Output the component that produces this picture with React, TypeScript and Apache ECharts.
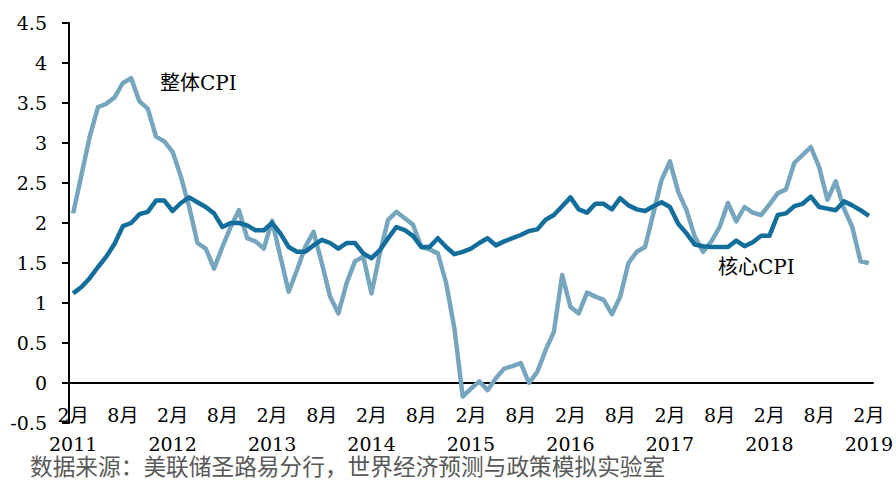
import React, { useEffect, useRef } from "react";
import * as echarts from "echarts";

// Monthly categories: Feb 2011 – Feb 2019
const startYear = 2011;
const startMonth = 2;
const endYear = 2019;
const endMonth = 2;
const months: string[] = [];
for (let y = startYear; y <= endYear; y++) {
  for (let m = 1; m <= 12; m++) {
    if (y === startYear && m < startMonth) continue;
    if (y === endYear && m > endMonth) break;
    months.push(`${y}-${m < 10 ? "0" + m : m}`);
  }
}

// 整体CPI (headline CPI, YoY %)
const headlineCPI: number[] = [
  2.12, 2.6, 3.08, 3.45, 3.49, 3.57, 3.75, 3.81, 3.52, 3.43, 3.08, 3.02,
  2.89, 2.58, 2.2, 1.75, 1.68, 1.43, 1.7, 1.95, 2.16, 1.81, 1.77, 1.68,
  2.03, 1.58, 1.14, 1.41, 1.7, 1.89, 1.5, 1.08, 0.87, 1.25, 1.52, 1.58,
  1.12, 1.62, 2.04, 2.14, 2.06, 1.98, 1.7, 1.67, 1.62, 1.25, 0.68, -0.17,
  -0.07, 0.02, -0.09, 0.06, 0.18, 0.21, 0.25, 0.0, 0.14, 0.41, 0.64, 1.35,
  0.95, 0.87, 1.13, 1.08, 1.04, 0.86, 1.08, 1.5, 1.64, 1.7, 2.12, 2.54,
  2.77, 2.39, 2.16, 1.83, 1.64, 1.77, 1.95, 2.25, 2.02, 2.2, 2.13, 2.1,
  2.23, 2.37, 2.42, 2.75, 2.85, 2.95, 2.7, 2.29, 2.52, 2.18, 1.95, 1.52,
  1.5,
];

// 核心CPI (core CPI, YoY %)
const coreCPI: number[] = [
  1.12, 1.2, 1.31, 1.45, 1.58, 1.74, 1.96, 2.0, 2.11, 2.14, 2.28, 2.28,
  2.15, 2.25, 2.32, 2.26, 2.2, 2.12, 1.95, 2.0, 2.0, 1.97, 1.91, 1.91,
  2.0, 1.87, 1.7, 1.64, 1.64, 1.72, 1.79, 1.75, 1.68, 1.75, 1.75, 1.62,
  1.56, 1.66, 1.81, 1.95, 1.91, 1.84, 1.7, 1.7, 1.81, 1.7, 1.61, 1.64,
  1.68, 1.75, 1.81, 1.72, 1.77, 1.81, 1.85, 1.9, 1.92, 2.04, 2.1, 2.21,
  2.32, 2.17, 2.13, 2.24, 2.24, 2.17, 2.31, 2.22, 2.17, 2.15, 2.21, 2.26,
  2.2, 1.99, 1.87, 1.73, 1.71, 1.7, 1.7, 1.7, 1.78, 1.71, 1.76, 1.84,
  1.84, 2.1, 2.12, 2.21, 2.24, 2.33, 2.2, 2.18, 2.16, 2.27, 2.22, 2.16,
  2.09,
];

const seriesNames = ["整体CPI", "核心CPI"];
const sourceText = "数据来源：美联储圣路易分行，世界经济预测与政策模拟实验室";

const FONT = "'DejaVu Serif','Noto Sans CJK SC',serif";

export default function App() {
  const ref = useRef<HTMLDivElement>(null);
  useEffect(() => {
    if (!ref.current) return;
    const chart = echarts.init(ref.current, undefined, { renderer: "svg" });
    const showIdx = (i: number) => i % 6 === 0;
    chart.setOption({
      animation: false,
      backgroundColor: "#ffffff",
      grid: {
        left: 69,
        right: 23,
        top: 23,
        bottom: 57,
        containLabel: false,
        outerBoundsMode: "none",
      },
      xAxis: {
        type: "category",
        data: months,
        boundaryGap: true,
        axisLine: { onZero: true, lineStyle: { color: "#000", width: 2 } },
        axisTick: {
          interval: (i: number) => showIdx(i),
          length: 7,
          lineStyle: { color: "#000", width: 2 },
        },
        axisLabel: {
          interval: (i: number) => showIdx(i),
          formatter: (v: string) => {
            const [y, m] = v.split("-");
            const mm = parseInt(m, 10);
            return mm === 2 ? `${mm}月\n${y}` : `${mm}月`;
          },
          fontFamily: FONT,
          fontSize: 19,
          lineHeight: 29,
          margin: -23,
          color: "#000",
        },
        splitLine: { show: false },
      },
      yAxis: {
        type: "value",
        min: -0.5,
        max: 4.5,
        interval: 0.5,
        axisLine: { show: true, lineStyle: { color: "#000", width: 2 } },
        axisTick: { show: true, length: 7, lineStyle: { color: "#000", width: 2 } },
        axisLabel: {
          fontFamily: FONT,
          fontSize: 19,
          margin: 22,
          color: "#000",
        },
        splitLine: { show: false },
      },
      series: [
        {
          name: seriesNames[0],
          type: "line",
          data: headlineCPI,
          showSymbol: false,
          symbol: "none",
          lineStyle: { color: "#75A6BE", width: 4.5, join: "round" },
          z: 2,
        },
        {
          name: seriesNames[1],
          type: "line",
          data: coreCPI,
          showSymbol: false,
          symbol: "none",
          lineStyle: { color: "#146E9C", width: 4.5, join: "round" },
          z: 3,
        },
      ],
      graphic: [
        {
          type: "text",
          left: 160,
          top: 73,
          style: { text: seriesNames[0], font: `20px ${FONT}`, fill: "#000" },
        },
        {
          type: "text",
          left: 718,
          top: 257,
          style: { text: seriesNames[1], font: `20px ${FONT}`, fill: "#000" },
        },
        {
          type: "text",
          left: 30,
          top: 456,
          style: { text: sourceText, font: `22.7px ${FONT}`, fill: "#595959" },
        },
      ],
    });
    return () => chart.dispose();
  }, []);
  return (
    <div
      ref={ref}
      style={{ position: "fixed", left: 0, top: 0, width: 896, height: 480 }}
    />
  );
}
